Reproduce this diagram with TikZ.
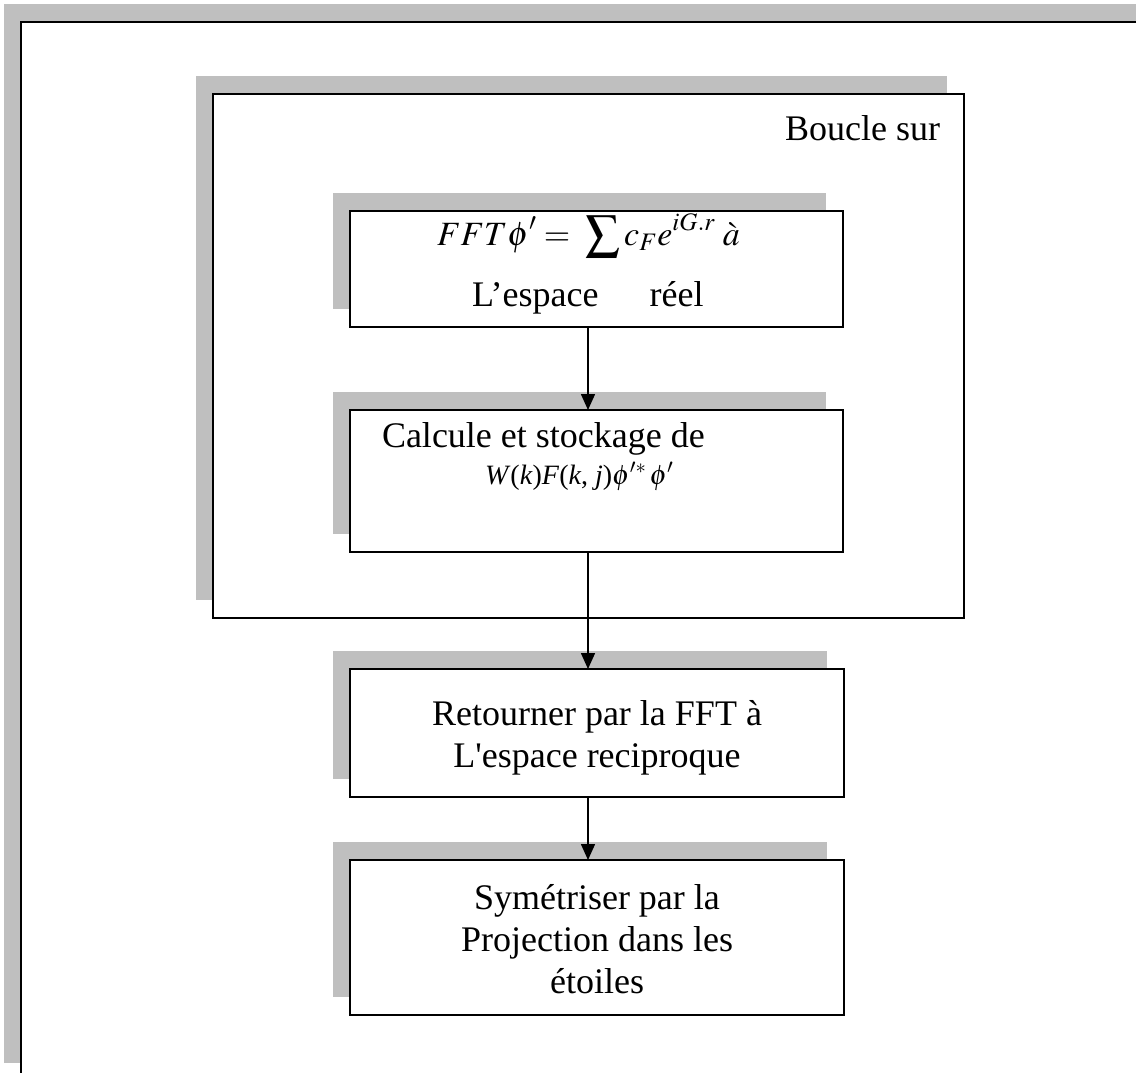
\documentclass[tikz,border=0pt]{standalone}
\usepackage{mathptmx}
\usepackage{fontspec}
\setmainfont{Liberation Serif}
\newfontfamily\rawserif{Liberation Serif}[Ligatures=TeXOff]
\usetikzlibrary{arrows.meta,shadows}
\definecolor{shadowgray}{RGB}{191,191,191}
\newcommand{\plainquote}{{\rawserif'}}
\begin{document}
\begin{tikzpicture}[x=1pt,y=-1pt,
  stepbox/.style={draw, line width=2pt, fill=white, inner sep=0pt, outer sep=0pt,
    drop shadow={shadow xshift=-17pt, shadow yshift=18pt, fill=shadowgray, opacity=1}},
  flow/.style={line width=1.6pt, -{Triangle[length=16pt,width=14pt]}},
  txt/.style={inner sep=0pt, outer sep=0pt, font=\fontsize{36}{42}\selectfont},
  mathbig/.style={inner sep=0pt, outer sep=0pt, font=\fontsize{34}{40}\selectfont},
  mathsmall/.style={inner sep=0pt, outer sep=0pt, font=\fontsize{28}{32}\selectfont}]
\useasboundingbox (0,0) rectangle (1144,1073);

% outer frame with its grey band
\fill[shadowgray] (4,4) rectangle (1136,1063);
\fill[white] (21,22) rectangle (1144,1073);
\draw[line width=2pt] (1136,22) -- (21,22) -- (21,1073);

% loop frame
\node[stepbox, minimum width=751pt, minimum height=524pt] (loop) at (588.5,356) {};
\node[txt, anchor=base east] (looptitle) at (940,140) {Boucle sur};

% steps
\node[stepbox, minimum width=493pt, minimum height=116pt] (fft) at (596.5,269) {};
\node[stepbox, minimum width=493pt, minimum height=142pt] (calc) at (596.5,481) {};
\node[stepbox, minimum width=494pt, minimum height=128pt] (back) at (597,733) {};
\node[stepbox, minimum width=494pt, minimum height=155pt] (sym) at (597,937.5) {};

% texts of the steps
\node[mathbig, anchor=base west] (fftformula) at (437,245)
  {$\displaystyle FFT\phi'=\;\sum c_F e^{iG.r}\;\grave{a}$};
\node[txt, anchor=base west] (fftspace) at (472,306) {L’espace\hspace{51pt}réel};
\node[txt, anchor=base west] (calctext) at (382,447) {Calcule et stockage de};
\node[mathsmall, anchor=base west] (calcformula) at (485,484)
  {\textit{W}(\textit{k})\textit{F}(\textit{k}, \textit{j})$\phi'^{*}\,\phi'$};
\node[txt, align=center, anchor=base] (backtext) at (597,767)
  {Retourner par la FFT à\\L\plainquote espace reciproque};
\node[txt, align=center, anchor=base] (symtext) at (597,993)
  {Symétriser par la\\Projection dans les\\étoiles};

% connectors
\coordinate (ax) at (588,0);
\draw[flow] (fft.south -| ax) -- (calc.north -| ax);
\draw[flow] (calc.south -| ax) -- (back.north -| ax);
\draw[flow] (back.south -| ax) -- (sym.north -| ax);
\end{tikzpicture}
\end{document}
